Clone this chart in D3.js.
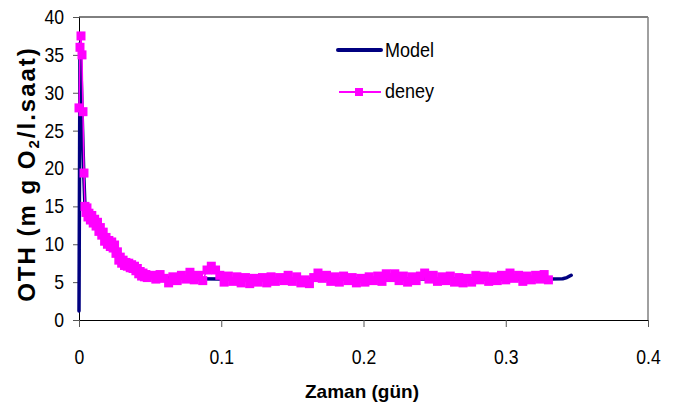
<!DOCTYPE html>
<html>
<head>
<meta charset="utf-8">
<script src="https://cdn.jsdelivr.net/npm/d3@7"></script>
<style>
  body { margin: 0; background: #fff; }
  text { font-family: "Liberation Sans", Arial, sans-serif; fill: #000; }
</style>
</head>
<body>
<div id="chart"></div>
<script>
// Model curve (time in days, OTH)
const modelX = [0, 0.0007, 0.0014, 0.0021, 0.0028, 0.0035, 0.0042, 0.006, 0.01, 0.015, 0.02, 0.025,
    0.03, 0.035, 0.04, 0.045, 0.05, 0.06, 0.07, 0.08, 0.1, 0.15, 0.2, 0.25, 0.3, 0.33, 0.34, 0.343, 0.346]
const modelY = [1.2, 36.5, 33, 28, 23, 18.5, 15, 14, 13, 11.6, 10.2, 9.2,
    8, 7.3, 6.8, 6.1, 5.8, 5.6, 5.5, 5.45, 5.4, 5.4, 5.4, 5.4, 5.4, 5.4, 5.45, 5.6, 5.9]

// measured values (deney)
const deneyX = [0, 0.0007, 0.0014, 0.0021, 0.0028, 0.0035, 0.0042, 0.0049, 0.0056, 0.0063, 0.007,
    0.008, 0.009, 0.010, 0.011, 0.012, 0.013, 0.014, 0.015, 0.016, 0.017, 0.018, 0.019, 0.020,
    0.021, 0.022, 0.023, 0.024, 0.025, 0.026, 0.027, 0.028, 0.029, 0.030, 0.031, 0.032, 0.033,
    0.034, 0.035, 0.036, 0.037, 0.038, 0.039, 0.040, 0.041, 0.042, 0.043, 0.044, 0.045, 0.046,
    0.047, 0.048, 0.051, 0.054, 0.057, 0.060, 0.063, 0.066, 0.069, 0.072, 0.075, 0.078, 0.081,
    0.084, 0.087, 0.090, 0.093, 0.096, 0.099, 0.102, 0.105, 0.108, 0.111, 0.114, 0.117, 0.120,
    0.123, 0.126, 0.129, 0.132, 0.135, 0.138, 0.141, 0.144, 0.147, 0.150, 0.153, 0.156, 0.159,
    0.162, 0.165, 0.168, 0.171, 0.174, 0.177, 0.180, 0.183, 0.186, 0.189, 0.192, 0.195, 0.198,
    0.201, 0.204, 0.207, 0.210, 0.213, 0.216, 0.219, 0.222, 0.225, 0.228, 0.231, 0.234, 0.237,
    0.240, 0.243, 0.246, 0.249, 0.252, 0.255, 0.258, 0.261, 0.264, 0.267, 0.270, 0.273, 0.276,
    0.279, 0.282, 0.285, 0.288, 0.291, 0.294, 0.297, 0.300, 0.303, 0.306, 0.309, 0.312, 0.315,
    0.318, 0.321, 0.324, 0.327, 0.330]
const deneyY = [28, 36, 37.5, 35, 27.5, 19.4, 15, 14.2, 14.8, 13.6, 14.1,
    13.2, 13.8, 12.8, 13.3, 12.4, 12.9, 11.7, 12.2, 11.2, 11.6, 10.4, 10.9, 10.0,
    10.5, 9.7, 10.3, 9.5, 9.9, 8.8, 9.0, 7.9, 8.3, 7.5, 7.9, 7.2, 7.6,
    7.1, 7.5, 6.9, 7.3, 6.8, 7.1, 6.5, 6.8, 6.1, 6.4, 5.8, 6.2, 5.7,
    6.0, 5.6, 5.9, 5.4, 6.0, 5.5, 4.9, 5.7, 5.2, 5.9, 5.4, 6.3, 5.3,
    5.9, 5.2, 6.6, 7.1, 6.6, 5.9, 5.0, 5.8, 5.1, 5.7, 4.9, 5.6, 4.8,
    5.5, 5.0, 5.6, 4.9, 5.7, 5.1, 5.6, 5.2, 5.9, 5.1, 5.7, 4.9, 5.3,
    4.8, 5.6, 6.2, 5.5, 5.9, 5.1, 5.7, 5.0, 5.8, 5.2, 5.6, 4.9, 5.5,
    5.0, 5.7, 5.2, 5.8, 5.1, 6.1, 5.6, 6.1, 5.2, 5.8, 5.0, 5.7, 5.2,
    5.8, 6.2, 5.4, 5.9, 5.1, 5.7, 5.2, 5.8, 5.0, 5.6, 4.9, 5.5, 5.0,
    5.9, 5.3, 5.8, 5.1, 5.7, 5.2, 5.9, 5.3, 6.2, 5.5, 5.9, 5.1, 5.8,
    5.3, 5.9, 5.4, 6.0, 5.3]

const xTicks = [0, 0.1, 0.2, 0.3, 0.4]
const yTicks = [0, 5, 10, 15, 20, 25, 30, 35, 40]
const seriesNames = ["Model", "deney"]

const width = 677, height = 419
const navy = "#000080", pink = "#ff00ff"

const svg = d3.select("#chart").append("svg")
    .attr("width", width)
    .attr("height", height)

const x = d3.scaleLinear().domain([0, 0.4]).range([79, 648])
const y = d3.scaleLinear().domain([0, 40]).range([320, 17])

// plot area border (top + right)
svg.append("line")
    .attr("x1", x(0)).attr("y1", y(40)).attr("x2", x(0.4)).attr("y2", y(40))
    .style("stroke", "#000").style("stroke-width", 1)
svg.append("line")
    .attr("x1", x(0.4)).attr("y1", y(40)).attr("x2", x(0.4)).attr("y2", y(0))
    .style("stroke", "#808080").style("stroke-width", 1.5)

const squeeze = "scale(0.88,1)"

const yAxis = svg.append("g")
    .attr("transform", `translate(${x(0)},0)`)
    .call(d3.axisLeft(y).tickValues(yTicks).tickSize(6).tickSizeOuter(0).tickPadding(9))
yAxis.selectAll("text")
    .style("font-size", "20px")
    .attr("x", -15 / 0.88)
    .attr("transform", squeeze)

const xAxis = svg.append("g")
    .attr("transform", `translate(0,${y(0)})`)
    .call(d3.axisBottom(x).tickValues(xTicks).tickFormat(d3.format("")).tickSize(7).tickSizeOuter(0).tickPadding(23))
xAxis.selectAll("text")
    .style("font-size", "20px")
    .attr("transform", squeeze)

svg.selectAll(".domain").style("stroke", "#000")
svg.selectAll(".tick line").style("stroke", "#555")

// model line (drawn first, under the measurements)
const modelLine = d3.line()
    .x(i => x(modelX[i]))
    .y(i => y(modelY[i]))
svg.append("path")
    .attr("d", modelLine(d3.range(modelX.length)))
    .style("fill", "none")
    .style("stroke", navy)
    .style("stroke-width", 3.5)
    .style("stroke-linejoin", "round")
    .style("stroke-linecap", "round")

const deneyLine = d3.line()
    .x(i => x(deneyX[i]))
    .y(i => y(deneyY[i]))
svg.append("path")
    .attr("d", deneyLine(d3.range(deneyX.length)))
    .style("fill", "none")
    .style("stroke", pink)
    .style("stroke-width", 1.5)

svg.append("g").selectAll("rect")
    .data(d3.range(deneyX.length))
    .join("rect")
    .attr("x", i => x(deneyX[i]) - 4.5)
    .attr("y", i => y(deneyY[i]) - 4.5)
    .attr("width", 9)
    .attr("height", 9)
    .style("fill", pink)

// legend
const legend = svg.append("g")
legend.append("line")
    .attr("x1", 338).attr("y1", 50).attr("x2", 381).attr("y2", 50)
    .style("stroke", navy).style("stroke-width", 4).style("stroke-linecap", "round")
legend.append("line")
    .attr("x1", 339).attr("y1", 92).attr("x2", 381).attr("y2", 92)
    .style("stroke", pink).style("stroke-width", 2)
legend.append("rect")
    .attr("x", 355).attr("y", 88).attr("width", 8).attr("height", 8)
    .style("fill", pink)
legend.selectAll("text")
    .data(seriesNames)
    .join("text")
    .attr("x", 385 / 0.9)
    .attr("y", (d, i) => 57 + i * 41)
    .attr("transform", "scale(0.9,1)")
    .style("font-size", "20px")
    .text(d => d)

// axis titles
svg.append("text")
    .attr("x", 362)
    .attr("y", 398)
    .attr("text-anchor", "middle")
    .style("font-size", "19px")
    .style("font-weight", "bold")
    .text("Zaman (gün)")

const yTitle = svg.append("text")
    .attr("transform", "translate(35,174) rotate(-90)")
    .attr("text-anchor", "middle")
    .style("font-size", "24px")
    .style("font-weight", "bold")
    .style("letter-spacing", "2px")
yTitle.append("tspan").text("OTH (m g O")
yTitle.append("tspan").attr("dy", 4).style("font-size", "15px").text("2")
yTitle.append("tspan").attr("dy", -4).text("/l.saat)")
</script>
</body>
</html>
